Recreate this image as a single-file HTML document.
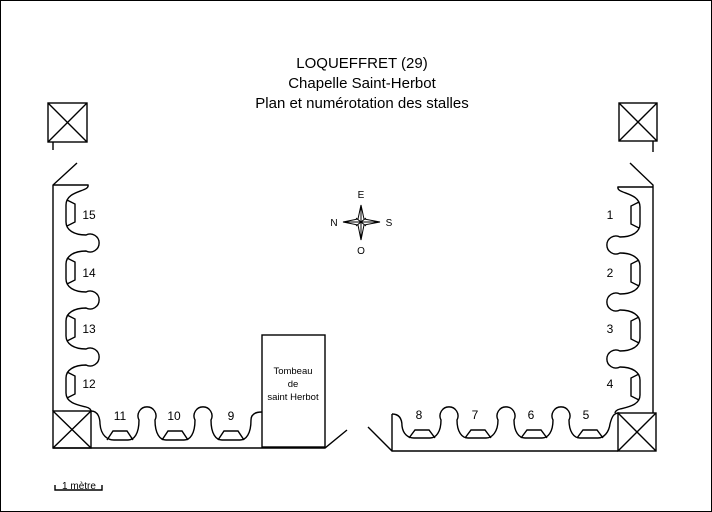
<!DOCTYPE html>
<html><head><meta charset="utf-8"><style>
html,body{margin:0;padding:0;background:#fff}
svg{display:block}
text{font-family:"Liberation Sans",sans-serif;fill:#000}
</style></head><body>
<svg width="712" height="512" viewBox="0 0 712 512" xmlns="http://www.w3.org/2000/svg">
<rect x="0.5" y="0.5" width="711" height="511" fill="#fff" stroke="#000" stroke-width="1"/>
<g text-anchor="middle" font-size="15">
<text x="362" y="68">LOQUEFFRET (29)</text>
<text x="362" y="88">Chapelle Saint-Herbot</text>
<text x="362" y="108">Plan et numérotation des stalles</text>
</g>
<g fill="none" stroke="#000" stroke-width="1.4">
<rect x="48" y="103" width="39" height="39"/><path d="M48,103 L87,142 M87,103 L48,142 M53,142 L53,150"/>
<rect x="619" y="103" width="38" height="38"/><path d="M619,103 L657,141 M657,103 L619,141 M653,141 L653,152"/>
<rect x="53" y="411" width="38" height="37"/><path d="M53,411 L91,448 M91,411 L53,448"/>
<rect x="618" y="413" width="38" height="38"/><path d="M618,413 L656,451 M656,413 L618,451"/>
<path d="M77,163 L53,185 L53,411"/>
<g id="wall">
<path d="M53,185 L88,185 C90,192 66,190 66,205 L66,222 C66,230 74,235 86,235 A9,9 0 1,1 86,251 C74,251 66,256 66,264 L66,279 C66,287 74,292 86,292 A9,9 0 1,1 86,308 C74,308 66,313 66,321 L66,336 C66,344 74,349 86,349 A9,9 0 1,1 86,365 C74,365 66,370 66,378 L66,393 C66,403 78,405 86,407 C90,408 91,410 91,411"/>
<path d="M67,200 L75,204 L75,222 L67,226 M67,258 L75,262 L75,280 L67,284 M67,315 L75,319 L75,337 L67,341 M67,372 L75,376 L75,394 L67,398"/>
</g>
<path d="M630,163 L653,185 L653,413"/>
<use href="#wall" transform="translate(706,2) scale(-1,1)"/>
<path d="M53,448 L325,448 L347,430"/>
<path d="M91,411 C99,411 100,420 100,424 C101,436 108,440 114,440 L128,440 C134,440 139,434 139,420 A9,9 0 1,1 155,420 C155,434 160,440 166,440 L184,440 C190,440 195,434 195,420 A9,9 0 1,1 211,420 C211,434 216,440 222,440 L240,440 C246,440 251,434 251,420 C251,414 256,412 262,412"/>
<path d="M107,440 L113,431 L127,431 L133,440 M162,440 L168,431 L182,431 L188,440 M218,440 L224,431 L238,431 L244,440"/>
<rect x="262" y="335" width="63" height="112"/>
<path d="M368,427 L392,451 L618,451 M392,451 L392,414"/>
<path d="M392,414 C400,414 402,420 402,426 C403,434 408,438 414,438 L430,438 C436,438 441,432 441,420 A9,9 0 1,1 457,420 C457,432 462,438 468,438 L486,438 C492,438 498,432 498,420 A9,9 0 1,1 514,420 C514,432 519,438 525,438 L542,438 C548,438 553,432 553,420 A9,9 0 1,1 569,420 C569,432 574,438 580,438 L598,438 C604,438 609,432 610,424 C612,416 614,413 619,413"/>
<path d="M409,438 L415,430 L429,430 L435,438 M465,438 L471,430 L485,430 L491,438 M521,438 L527,430 L541,430 L547,438 M577,438 L583,430 L597,430 L603,438"/>
<path d="M55,485 L55,490 L102,490 L102,485"/>
</g>
<g stroke="#000" stroke-width="1" fill="#fff">
<path d="M361,205 L364,219 L380,222 L364,225 L361,240 L358,225 L343,222 L358,219 Z"/>
<path d="M361,205 L361,240 M343,222 L380,222 M356,218 L366,226 M366,218 L356,226" fill="none"/>
</g>
<g font-size="10" text-anchor="middle">
<text x="361" y="198">E</text><text x="389" y="226">S</text><text x="361" y="254">O</text><text x="334" y="226">N</text>
</g>
<g font-size="12" text-anchor="middle">
<text x="89" y="219">15</text><text x="89" y="277">14</text><text x="89" y="333">13</text><text x="89" y="388">12</text>
<text x="610" y="219">1</text><text x="610" y="277">2</text><text x="610" y="333">3</text><text x="610" y="388">4</text>
<text x="120" y="420">11</text><text x="174" y="420">10</text><text x="231" y="420">9</text>
<text x="419" y="419">8</text><text x="475" y="419">7</text><text x="531" y="419">6</text><text x="586" y="419">5</text>
</g>
<g font-size="9.5" text-anchor="middle">
<text x="293" y="374">Tombeau</text><text x="293" y="387">de</text><text x="293" y="400">saint Herbot</text>
</g>
<text x="79" y="489" font-size="10" text-anchor="middle" font-family="Liberation Serif">1 mètre</text>
</svg>
</body></html>
